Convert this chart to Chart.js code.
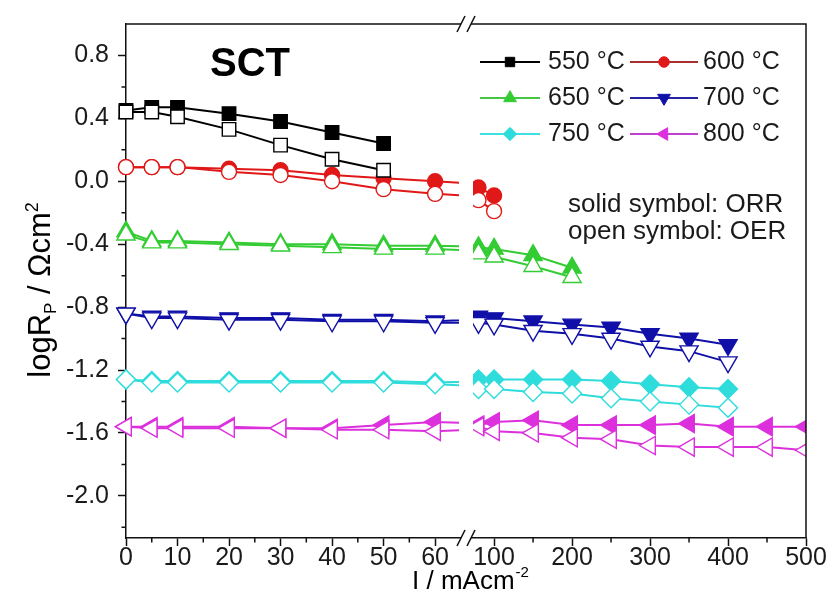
<!DOCTYPE html>
<html>
<head>
<meta charset="utf-8">
<script src="https://cdn.jsdelivr.net/npm/chart.js@4.4.1/dist/chart.umd.min.js"></script>
<style>
  html, body { margin: 0; padding: 0; background: #fff; }
</style>
</head>
<body>
<canvas id="myChart" width="831" height="602"></canvas>
<script>
// values: current density I (mA/cm2) -> log Rp
const current550 = [0, 5, 10, 20, 30, 40, 50];
const orr550 = [0.45, 0.47, 0.47, 0.43, 0.38, 0.31, 0.24];
const oer550 = [0.44, 0.44, 0.41, 0.33, 0.23, 0.14, 0.07];

const current600 = [0, 5, 10, 20, 30, 40, 50, 60, 80, 100];
const orr600 = [0.09, 0.09, 0.09, 0.08, 0.07, 0.04, 0.02, 0.00, -0.04, -0.09];
const oer600 = [0.09, 0.09, 0.09, 0.06, 0.04, 0.00, -0.05, -0.08, -0.12, -0.19];

const current650 = [0, 5, 10, 20, 30, 40, 50, 60, 80, 100, 150, 200];
const orr650 = [-0.32, -0.38, -0.38, -0.39, -0.40, -0.40, -0.41, -0.41, -0.42, -0.43, -0.47, -0.55];
const oer650 = [-0.34, -0.39, -0.39, -0.40, -0.41, -0.42, -0.43, -0.43, -0.46, -0.48, -0.54, -0.61];

const current700 = [0, 5, 10, 20, 30, 40, 50, 60, 80, 100, 150, 200, 250, 300, 350, 400];
const orr700 = [-0.84, -0.86, -0.86, -0.87, -0.87, -0.88, -0.88, -0.89, -0.86, -0.87, -0.89, -0.91, -0.93, -0.97, -1.00, -1.04];
const oer700 = [-0.84, -0.87, -0.87, -0.88, -0.88, -0.89, -0.89, -0.90, -0.90, -0.91, -0.95, -0.97, -1.00, -1.05, -1.08, -1.15];

const current750 = [0, 5, 10, 20, 30, 40, 50, 60, 80, 100, 150, 200, 250, 300, 350, 400];
const orr750 = [-1.26, -1.27, -1.27, -1.27, -1.27, -1.27, -1.27, -1.28, -1.26, -1.26, -1.26, -1.26, -1.27, -1.29, -1.31, -1.32];
const oer750 = [-1.26, -1.28, -1.28, -1.28, -1.28, -1.28, -1.28, -1.29, -1.32, -1.32, -1.34, -1.35, -1.38, -1.40, -1.42, -1.44];

const current800 = [0, 5, 10, 20, 30, 40, 50, 60, 80, 100, 150, 200, 250, 300, 350, 400, 450, 500];
const orr800 = [-1.56, -1.56, -1.56, -1.56, -1.57, -1.57, -1.55, -1.53, -1.55, -1.53, -1.52, -1.55, -1.55, -1.55, -1.54, -1.56, -1.56, -1.56];
const oer800 = [-1.56, -1.57, -1.57, -1.57, -1.57, -1.58, -1.58, -1.59, -1.56, -1.59, -1.60, -1.63, -1.64, -1.68, -1.69, -1.69, -1.69, -1.71];

const temps = ["550 °C", "600 °C", "650 °C", "700 °C", "750 °C", "800 °C"];

const yTicks = [-2.0, -1.6, -1.2, -0.8, -0.4, 0.0, 0.4, 0.8];
const yMinor = [-2.2, -1.8, -1.4, -1.0, -0.6, -0.2, 0.2, 0.6];
const xLowTicks = [0, 10, 20, 30, 40, 50, 60];
const xLowMinor = [5, 15, 25, 35, 45, 55];
const xHighTicks = [100, 200, 300, 400, 500];
const xHighMinor = [150, 250, 350, 450];

// styles
const series = [
  { label: temps[0], x: current550, orr: orr550, oer: oer550, color: "#000000", legendColor: "#000000", style: "rect", rot: 0, r: 9.5 },
  { label: temps[1], x: current600, orr: orr600, oer: oer600, color: "#e01818", legendColor: "#a83030", style: "circle", rot: 0, r: 7.5 },
  { label: temps[2], x: current650, orr: orr650, oer: oer650, color: "#33cc33", legendColor: "#44c844", style: "triangle", rot: 0, r: 10.5 },
  { label: temps[3], x: current700, orr: orr700, oer: oer700, color: "#1010a8", legendColor: "#2424a0", style: "triangle", rot: 180, r: 10.5 },
  { label: temps[4], x: current750, orr: orr750, oer: oer750, color: "#2fdcdc", legendColor: "#40e0e0", style: "rectRot", rot: 0, r: 9.5 },
  { label: temps[5], x: current800, orr: orr800, oer: oer800, color: "#dd30dd", legendColor: "#c040d0", style: "triangle", rot: 270, r: 10.5 }
];

const LOW_MAX = 66;
const HIGH_MIN = 64;
const FONT = "'Liberation Sans', Arial, sans-serif";
const tickFont = { family: FONT, size: 25 };

const datasets = [];
series.forEach(function (s) {
  ["orr", "oer"].forEach(function (kind) {
    const pts = s.x.map(function (x, i) { return { x: x, y: s[kind][i] }; });
    const open = kind === "oer";
    const base = {
      label: s.label + " " + kind.toUpperCase(),
      borderColor: s.color,
      borderWidth: 2,
      pointStyle: s.style,
      pointRotation: s.rot,
      pointRadius: s.r,
      pointHoverRadius: s.r,
      pointBackgroundColor: open ? "#ffffff" : s.color,
      pointBorderColor: s.color,
      pointBorderWidth: 1.4,
      fill: false,
      tension: 0,
      clip: false,
      order: open ? 0 : 1
    };
    datasets.push(Object.assign({}, base, { xAxisID: "x1", data: pts }));
    const hi = pts.filter(function (p) { return p.x > HIGH_MIN; });
    if (hi.length) datasets.push(Object.assign({}, base, { xAxisID: "x2", data: hi }));
  });
});

function axisGrid() {
  return { drawOnChartArea: false, tickLength: 8, tickWidth: 1.5, tickColor: "#111" };
}

// clip each dataset to its own half of the broken axis
const segmentClip = {
  id: "segmentClip",
  beforeDatasetDraw(chart, args) {
    const xs = args.meta.xScale;
    const ctx = chart.ctx;
    ctx.save();
    ctx.beginPath();
    if (xs.id === "x1") ctx.rect(0, 0, xs.right - 7, chart.height);
    else ctx.rect(xs.left + 7, 0, xs.right - xs.left - 7, chart.height);
    ctx.clip();
  },
  afterDatasetDraw(chart) {
    chart.ctx.restore();
  }
};

function drawBreak(ctx, x, y) {
  ctx.fillStyle = "#fff";
  ctx.fillRect(x - 5, y - 3, 10, 6);
  ctx.strokeStyle = "#111";
  ctx.lineWidth = 1.5;
  [-5, 5].forEach(function (d) {
    ctx.beginPath();
    ctx.moveTo(x + d - 4, y + 8);
    ctx.lineTo(x + d + 4, y - 8);
    ctx.stroke();
  });
}

const decor = {
  id: "decor",
  afterDraw(chart) {
    const ctx = chart.ctx;
    const a = chart.chartArea;
    const x1 = chart.scales.x1, x2 = chart.scales.x2, y = chart.scales.y;
    ctx.save();

    // top and right frame
    ctx.strokeStyle = "#111";
    ctx.lineWidth = 1.5;
    ctx.beginPath();
    ctx.moveTo(a.left, a.top);
    ctx.lineTo(a.right, a.top);
    ctx.lineTo(a.right, a.bottom);
    ctx.stroke();

    // minor ticks
    ctx.beginPath();
    yMinor.forEach(function (v) {
      const p = y.getPixelForValue(v);
      ctx.moveTo(a.left - 4.5, p);
      ctx.lineTo(a.left, p);
    });
    xLowMinor.forEach(function (v) {
      const p = x1.getPixelForValue(v);
      ctx.moveTo(p, a.bottom);
      ctx.lineTo(p, a.bottom + 4.5);
    });
    xHighMinor.forEach(function (v) {
      const p = x2.getPixelForValue(v);
      ctx.moveTo(p, a.bottom);
      ctx.lineTo(p, a.bottom + 4.5);
    });
    ctx.stroke();

    // axis break marks
    drawBreak(ctx, x1.right, a.bottom);
    drawBreak(ctx, x1.right, a.top);

    // legend
    const rows = [62, 98, 134];
    const cols = [{ l: 480, r: 540, t: 548 }, { l: 630, r: 698, t: 703 }];
    ctx.font = "25px " + FONT;
    ctx.textBaseline = "middle";
    ctx.textAlign = "left";
    series.forEach(function (s, i) {
      const row = rows[Math.floor(i / 2)];
      const c = cols[i % 2];
      ctx.strokeStyle = s.legendColor;
      ctx.lineWidth = 2;
      ctx.beginPath();
      ctx.moveTo(c.l, row);
      ctx.lineTo(c.r, row);
      ctx.stroke();
      ctx.fillStyle = s.color;
      ctx.strokeStyle = s.color;
      ctx.lineWidth = 1;
      Chart.helpers.drawPoint(ctx, { pointStyle: s.style, rotation: s.rot, radius: s.r * 0.7, borderWidth: 1 }, (c.l + c.r) / 2, row);
      ctx.fillStyle = "#1a1a1a";
      ctx.fillText(s.label, c.t, row);
    });

    ctx.font = "26px " + FONT;
    ctx.fillStyle = "#1a1a1a";
    ctx.fillText("solid symbol: ORR", 568, 205);
    ctx.fillText("open symbol: OER", 568, 232);

    // panel label
    ctx.font = "bold 40px " + FONT;
    ctx.fillStyle = "#000";
    ctx.textAlign = "center";
    ctx.fillText("SCT", 250, 65);

    // x axis title
    ctx.textAlign = "left";
    ctx.textBaseline = "alphabetic";
    const xt = "I / mAcm";
    ctx.font = "26px " + FONT;
    const w1 = ctx.measureText(xt).width;
    ctx.font = "15px " + FONT;
    const w2 = ctx.measureText("-2").width;
    const sx = 470 - (w1 + w2) / 2;
    ctx.font = "26px " + FONT;
    ctx.fillText(xt, sx, 589);
    ctx.font = "15px " + FONT;
    ctx.fillText("-2", sx + w1 + 1, 577);

    // y axis title
    ctx.translate(50, 290);
    ctx.rotate(-Math.PI / 2);
    const parts = [
      { t: "logR", f: 31, dy: 0 },
      { t: "P", f: 17, dy: 6 },
      { t: " / \u03A9cm", f: 31, dy: 0 },
      { t: "2", f: 18, dy: -12 }
    ];
    let total = 0;
    parts.forEach(function (p) {
      ctx.font = p.f + "px " + FONT;
      p.w = ctx.measureText(p.t).width;
      total += p.w;
    });
    let px = -total / 2;
    parts.forEach(function (p) {
      ctx.font = p.f + "px " + FONT;
      ctx.fillText(p.t, px, p.dy);
      px += p.w;
    });

    ctx.restore();
  }
};

new Chart("myChart", {
  type: "line",
  data: { datasets: datasets },
  options: {
    responsive: false,
    animation: false,
    layout: { padding: { top: 24, right: 25, left: 0, bottom: 0 } },
    plugins: { legend: { display: false }, tooltip: { enabled: false } },
    scales: {
      x1: {
        type: "linear", position: "bottom", stack: "xb", stackWeight: 1,
        min: 0, max: LOW_MAX,
        afterFit: function (s) { s.height = 64; },
        afterBuildTicks: function (s) { s.ticks = xLowTicks.map(function (v) { return { value: v }; }); },
        ticks: { font: tickFont, color: "#1a1a1a", padding: -3, autoSkip: false, maxRotation: 0, callback: function (v) { return String(v); } },
        grid: axisGrid(),
        border: { display: true, color: "#111", width: 1.5 }
      },
      x2: {
        type: "linear", position: "bottom", stack: "xb", stackWeight: 1,
        min: HIGH_MIN, max: 500,
        afterFit: function (s) { s.height = 64; },
        afterBuildTicks: function (s) { s.ticks = xHighTicks.map(function (v) { return { value: v }; }); },
        ticks: { font: tickFont, color: "#1a1a1a", padding: -3, autoSkip: false, maxRotation: 0, callback: function (v) { return String(v); } },
        grid: axisGrid(),
        border: { display: true, color: "#111", width: 1.5 }
      },
      y: {
        type: "linear", position: "left",
        min: -2.268, max: 1.0,
        afterFit: function (s) { s.width = 126; },
        afterBuildTicks: function (s) { s.ticks = yTicks.map(function (v) { return { value: v }; }); },
        ticks: { font: tickFont, color: "#1a1a1a", padding: 9, autoSkip: false, callback: function (v) { return v.toFixed(1); } },
        grid: axisGrid(),
        border: { display: true, color: "#111", width: 1.5 }
      }
    }
  },
  plugins: [segmentClip, decor]
});
</script>
</body>
</html>
